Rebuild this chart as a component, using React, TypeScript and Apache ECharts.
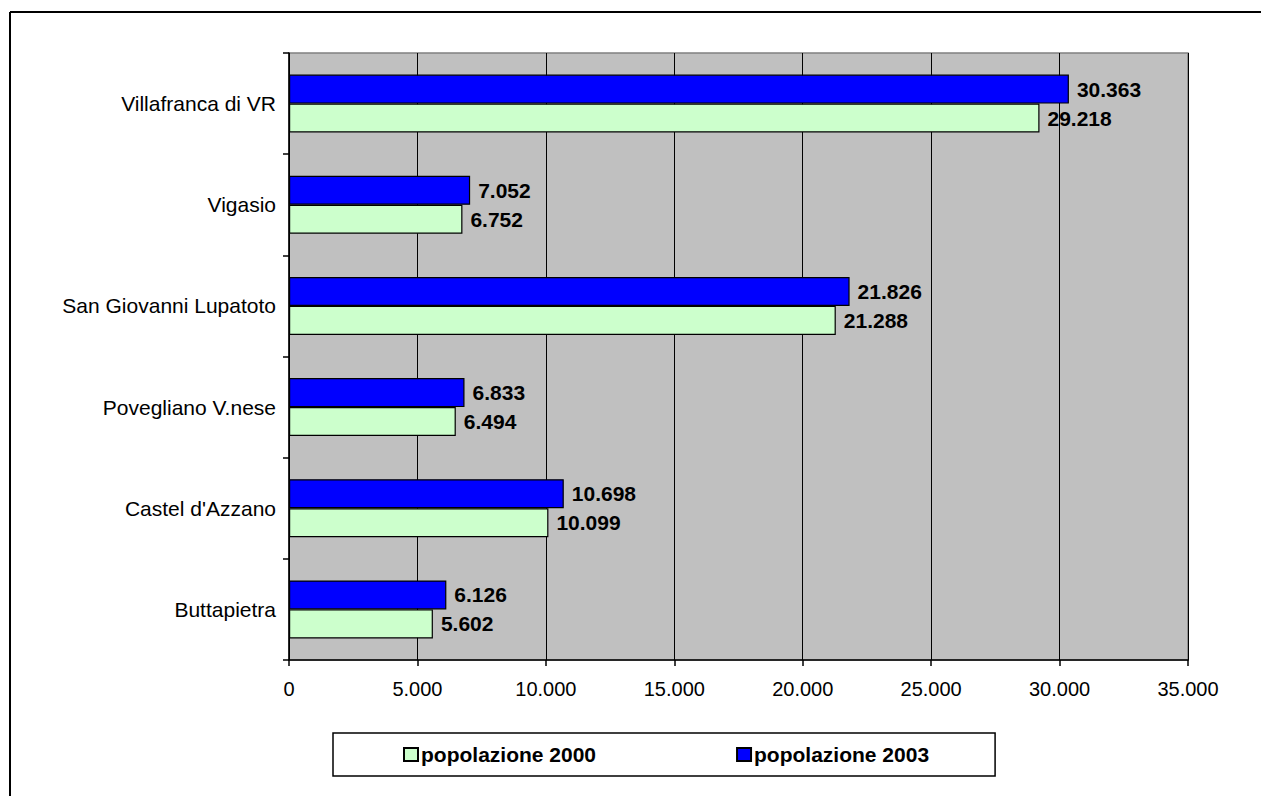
import React, { useEffect, useRef } from "react";
import * as echarts from "echarts";

const categories = [
  "Buttapietra",
  "Castel d'Azzano",
  "Povegliano V.nese",
  "San Giovanni Lupatoto",
  "Vigasio",
  "Villafranca di VR",
];
const pop2000 = [5602, 10099, 6494, 21288, 6752, 29218];
const pop2003 = [6126, 10698, 6833, 21826, 7052, 30363];
const seriesNames = ["popolazione 2000", "popolazione 2003"];

const FONT = "'Liberation Sans', Arial, sans-serif";

function fmt(v: number): string {
  return String(Math.round(v)).replace(/\B(?=(\d{3})+(?!\d))/g, ".");
}

export default function App() {
  const ref = useRef<HTMLDivElement>(null);

  useEffect(() => {
    document.body.style.margin = "0";
    if (!ref.current) return;
    const chart = echarts.init(ref.current, undefined, { renderer: "svg" });
    const labelCfg = {
      show: true,
      position: "right" as const,
      distance: 8,
      color: "#000",
      fontFamily: FONT,
      fontWeight: "bold" as const,
      fontSize: 21,
      formatter: (p: any) => fmt(p.value),
    };
    chart.setOption({
      animation: false,
      backgroundColor: "#fff",
      textStyle: { fontFamily: FONT },
      grid: {
        left: 289,
        right: 73,
        top: 53,
        bottom: 136,
        show: true,
        backgroundColor: "#C0C0C0",
        borderColor: "#808080",
        borderWidth: 1.5,
        containLabel: false,
      },
      legend: {
        data: seriesNames,
        left: 333,
        top: 733,
        orient: "horizontal",
        itemWidth: 14,
        itemHeight: 13,
        itemGap: 140,
        padding: [11, 66, 11, 70],
        borderColor: "#000",
        borderWidth: 1.5,
        backgroundColor: "#fff",
        icon: "rect",
        textStyle: {
          fontFamily: FONT,
          fontWeight: "bold",
          fontSize: 21,
          color: "#000",
          padding: [0, 0, 0, -2],
        },
      },
      xAxis: {
        type: "value",
        min: 0,
        max: 35000,
        interval: 5000,
        axisLine: { show: true, lineStyle: { color: "#000", width: 1.5 } },
        axisTick: { show: true, length: 6, lineStyle: { color: "#000", width: 1.5 } },
        splitLine: { show: true, lineStyle: { color: "#000", width: 1 } },
        axisLabel: {
          color: "#000",
          fontFamily: FONT,
          fontSize: 20,
          margin: 19,
          formatter: (v: number) => fmt(v),
        },
      },
      yAxis: {
        type: "category",
        data: categories,
        axisLine: { show: true, lineStyle: { color: "#000", width: 1.5 } },
        axisTick: { show: true, length: 6, alignWithLabel: false, lineStyle: { color: "#000", width: 1.5 } },
        splitLine: { show: false },
        axisLabel: {
          color: "#000",
          fontFamily: FONT,
          fontSize: 21,
          margin: 13,
        },
      },
      series: [
        {
          name: seriesNames[1],
          type: "bar",
          data: pop2003,
          barGap: "0%",
          barCategoryGap: "42.7%",
          itemStyle: { color: "#0000FF", borderColor: "#000", borderWidth: 1.2 },
          label: labelCfg,
        },
        {
          name: seriesNames[0],
          type: "bar",
          data: pop2000,
          barGap: "0%",
          barCategoryGap: "42.7%",
          itemStyle: { color: "#CCFFCC", borderColor: "#000", borderWidth: 1.2 },
          label: labelCfg,
        },
      ],
      graphic: [
        {
          type: "line",
          shape: { x1: 10, y1: 12, x2: 1261, y2: 12 },
          style: { stroke: "#000", lineWidth: 2 },
          z: 100,
        },
        {
          type: "line",
          shape: { x1: 10, y1: 12, x2: 10, y2: 796 },
          style: { stroke: "#000", lineWidth: 2 },
          z: 100,
        },
      ],
    });
    return () => chart.dispose();
  }, []);

  return <div ref={ref} style={{ width: 1261, height: 796 }} />;
}
